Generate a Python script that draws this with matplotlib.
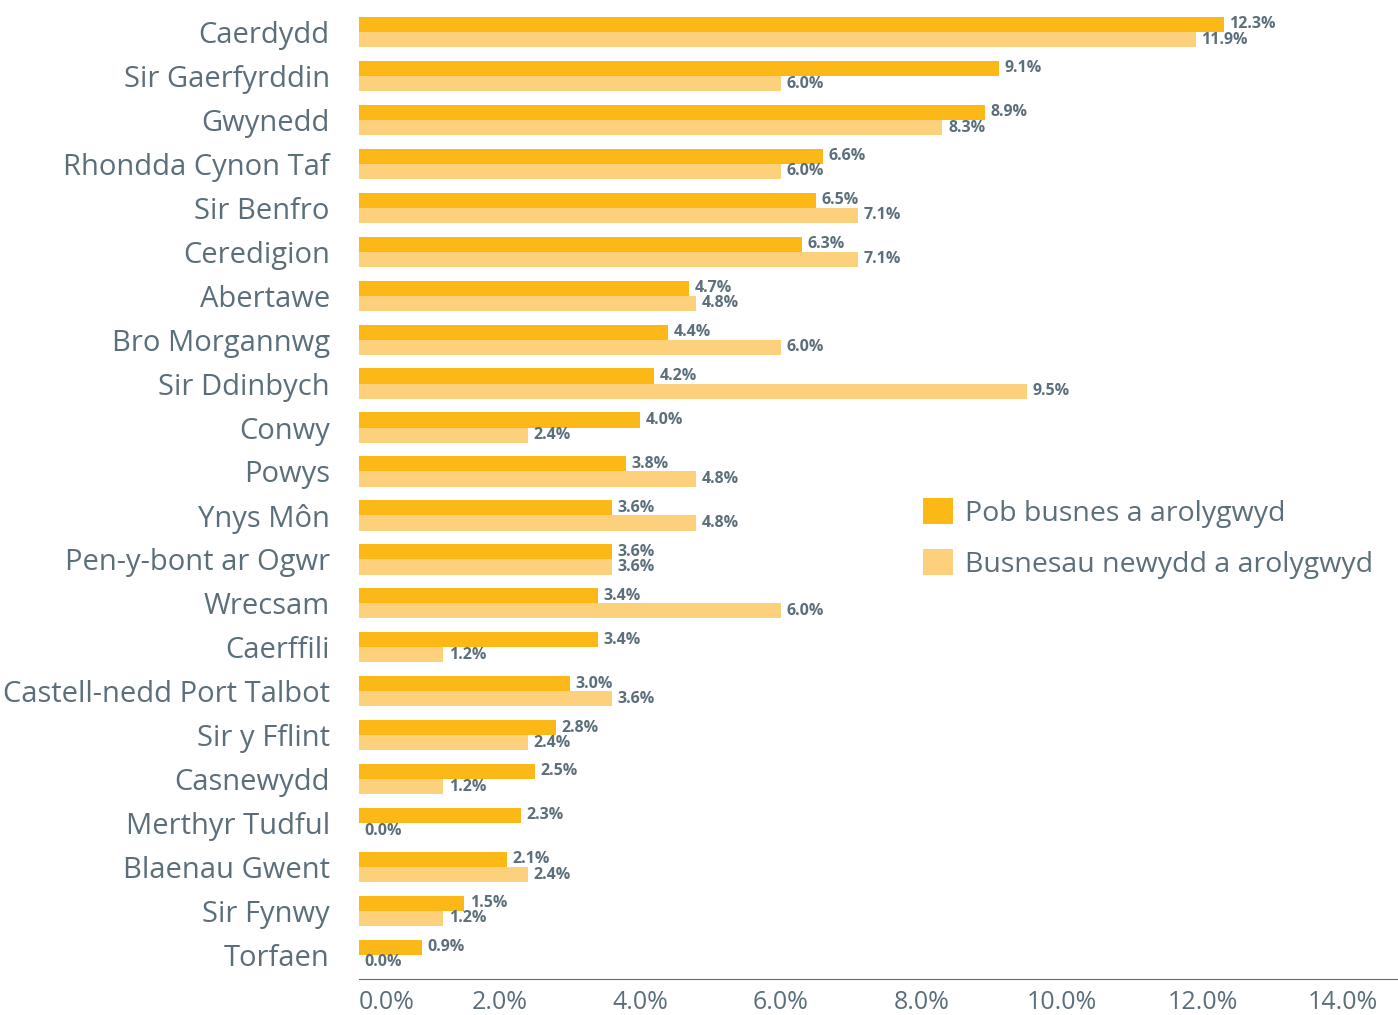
import numpy as np
import matplotlib
matplotlib.use('Agg')
from matplotlib import pyplot as plt
from matplotlib.ticker import FuncFormatter

siroedd = ['Caerdydd', 'Sir Gaerfyrddin', 'Gwynedd', 'Rhondda Cynon Taf', 'Sir Benfro',
           'Ceredigion', 'Abertawe', 'Bro Morgannwg', 'Sir Ddinbych', 'Conwy', 'Powys',
           'Ynys Môn', 'Pen-y-bont ar Ogwr', 'Wrecsam', 'Caerffili',
           'Castell-nedd Port Talbot', 'Sir y Fflint', 'Casnewydd', 'Merthyr Tudful',
           'Blaenau Gwent', 'Sir Fynwy', 'Torfaen']
pob_busnes = [12.3, 9.1, 8.9, 6.6, 6.5, 6.3, 4.7, 4.4, 4.2, 4.0, 3.8,
              3.6, 3.6, 3.4, 3.4, 3.0, 2.8, 2.5, 2.3, 2.1, 1.5, 0.9]
busnesau_newydd = [11.9, 6.0, 8.3, 6.0, 7.1, 7.1, 4.8, 6.0, 9.5, 2.4, 4.8,
                   4.8, 3.6, 6.0, 1.2, 3.6, 2.4, 1.2, 0.0, 2.4, 1.2, 0.0]
enwau = ['Pob busnes a arolygwyd', 'Busnesau newydd a arolygwyd']

lliw1 = '#FBB817'
lliw2 = '#FDD17B'
llwyd = '#5B6F7B'

plt.rcParams['font.family'] = ['Open Sans', 'DejaVu Sans']

fig = plt.figure(figsize=(13.98, 10.15), dpi=100)
ax = fig.add_axes([359/1398, 1-979/1015, 1-359/1398, 979/1015])

y = np.arange(len(siroedd))
h = 0.345
b1 = ax.barh(y - h/2, pob_busnes, height=h, color=lliw1, label=enwau[0])
b2 = ax.barh(y + h/2, busnesau_newydd, height=h, color=lliw2, label=enwau[1])

for bars in (b1, b2):
    for bar in bars:
        w = bar.get_width()
        ax.annotate('%.1f%%' % w, (w, bar.get_y() + bar.get_height()/2),
                    xytext=(4, 0), textcoords='offset points', va='center', ha='left',
                    fontsize=11.5, fontweight='bold', color=llwyd)

ax.set_xlim(0, (1398-359)/70.3)
ax.set_ylim(len(siroedd) - 1 + 0.55, -0.73)
ax.set_yticks(y)
ax.set_yticklabels(siroedd, fontsize=21, color=llwyd)
ax.set_xticks(np.arange(0, 15, 2))
ax.xaxis.set_major_formatter(FuncFormatter(lambda v, p: '%.1f%%' % v))
ax.tick_params(axis='x', labelsize=18, labelcolor=llwyd, pad=8)
ax.get_xticklabels()[0].set_ha('left')
ax.tick_params(axis='both', length=0)
ax.tick_params(axis='y', pad=21)
for s in ['top', 'right', 'left']:
    ax.spines[s].set_visible(False)
ax.spines['bottom'].set_color(llwyd)

leg = fig.legend(loc='upper left', bbox_to_anchor=(897/1398, 1-472/1015), frameon=False,
                 fontsize=20.5, handlelength=1.05, handleheight=1.05, labelspacing=0.75,
                 handletextpad=0.45)
for t in leg.get_texts():
    t.set_color(llwyd)

fig.savefig('out.png', dpi=100)
